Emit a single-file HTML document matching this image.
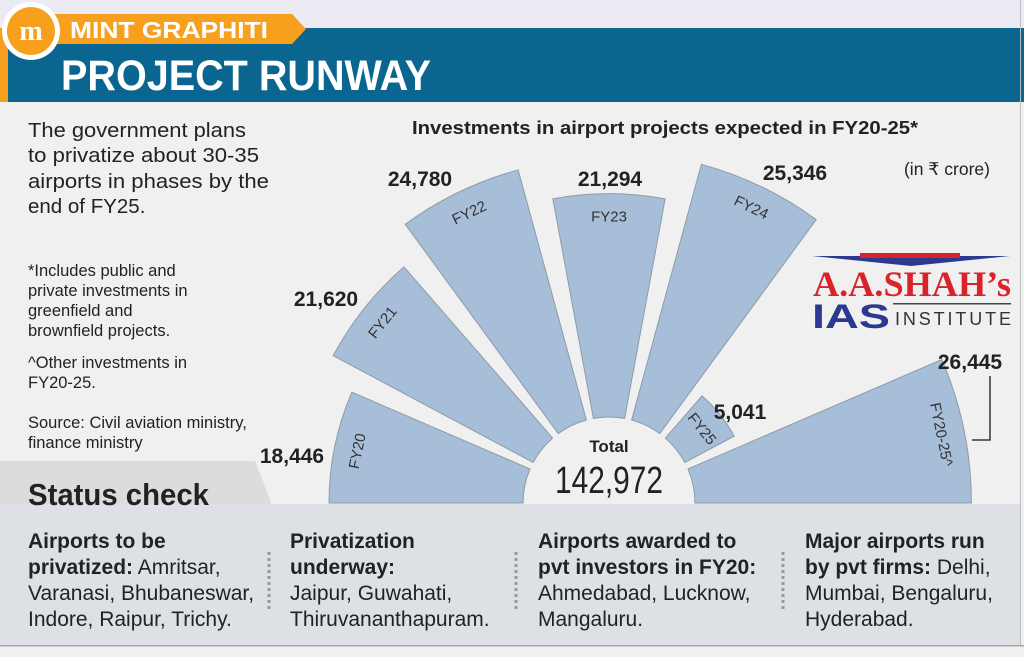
<!DOCTYPE html>
<html><head><meta charset="utf-8">
<style>
html,body{margin:0;padding:0;background:#f0f0f0;}
body{width:1024px;height:652px;overflow:hidden;position:relative;}
</style></head><body>
<svg id="s" width="1024" height="652" viewBox="0 0 1024 652" xmlns="http://www.w3.org/2000/svg" font-family="Liberation Sans, sans-serif">
<rect x="0" y="0" width="1024" height="652" fill="#f0f0f0"/>
<rect x="0" y="0" width="1024" height="28" fill="#eceaf2"/>
<rect x="0" y="28" width="1024" height="74" fill="#0a6590"/>
<rect x="0" y="28" width="8" height="74" fill="#f7a01e"/>
<polygon points="20,14 292,14 306,29 292,44 20,44" fill="#f7a01e"/>
<circle cx="31" cy="31" r="29" fill="#fff"/>
<circle cx="31" cy="31" r="24" fill="#f7a01e"/>
<text x="31" y="40" font-size="28" font-weight="bold" fill="#fff" text-anchor="middle" font-family="Liberation Serif, serif">m</text>
<text x="70" y="38" font-size="23" font-weight="bold" fill="#fff" textLength="198" lengthAdjust="spacingAndGlyphs">MINT GRAPHITI</text>
<text x="61" y="90" font-size="43" font-weight="bold" fill="#fff" textLength="370" lengthAdjust="spacingAndGlyphs">PROJECT RUNWAY</text>
<g font-size="20.5" fill="#222">
<text x="28" y="137" textLength="218" lengthAdjust="spacingAndGlyphs">The government plans</text>
<text x="28" y="162" textLength="231" lengthAdjust="spacingAndGlyphs">to privatize about 30-35</text>
<text x="28" y="188" textLength="241" lengthAdjust="spacingAndGlyphs">airports in phases by the</text>
<text x="28" y="213">end of FY25.</text>
</g>
<g font-size="16.5" fill="#222">
<text x="28" y="276">*Includes public and</text>
<text x="28" y="296">private investments in</text>
<text x="28" y="316">greenfield and</text>
<text x="28" y="336">brownfield projects.</text>
<text x="28" y="368">^Other investments in</text>
<text x="28" y="388">FY20-25.</text>
<text x="28" y="428">Source: Civil aviation ministry,</text>
<text x="28" y="448">finance ministry</text>
</g>
<text x="412" y="134" font-size="18" font-weight="bold" fill="#222" textLength="506" lengthAdjust="spacingAndGlyphs">Investments in airport projects expected in FY20-25*</text>
<text x="990" y="175" font-size="17.5" fill="#222" text-anchor="end">(in ₹ crore)</text>
<polygon points="0,461 255,461 272,505 0,505" fill="#dcdcdc"/>
<rect x="0" y="504" width="1020" height="142" fill="#dde0e4"/>
<rect x="1020" y="0" width="1" height="646" fill="#bbb"/>
<rect x="0" y="645" width="1024" height="1.5" fill="#aaa"/>
<text x="28" y="505" font-size="31" font-weight="bold" fill="#222" textLength="181" lengthAdjust="spacingAndGlyphs">Status check</text>
<g id="chart"></g>
<g>
<polygon points="812,256 1010,256 911,266" fill="#2b3990"/>
<rect x="860" y="253" width="100" height="5" fill="#d8232a"/>
<text x="912" y="296" font-size="36" font-weight="bold" fill="#d8232a" text-anchor="middle" font-family="Liberation Serif, serif" textLength="198" lengthAdjust="spacingAndGlyphs">A.A.SHAH’s</text>
<text x="812" y="328" font-size="34" font-weight="bold" fill="#2b3990" textLength="78" lengthAdjust="spacingAndGlyphs">IAS</text>
<rect x="893" y="303" width="118" height="1.5" fill="#444"/>
<text x="895" y="325" font-size="18" fill="#333" textLength="116" lengthAdjust="spacing">INSTITUTE</text>
</g>
<polyline points="990,376 990,440 972,440" fill="none" stroke="#333" stroke-width="1.5"/>
<g font-size="21" fill="#222">
<text x="28" y="548" font-weight="bold">Airports to be</text>
<text x="28" y="574"><tspan font-weight="bold">privatized:</tspan> Amritsar,</text>
<text x="28" y="600">Varanasi, Bhubaneswar,</text>
<text x="28" y="626">Indore, Raipur, Trichy.</text>
<text x="290" y="548" font-weight="bold">Privatization</text>
<text x="290" y="574" font-weight="bold">underway:</text>
<text x="290" y="600">Jaipur, Guwahati,</text>
<text x="290" y="626">Thiruvananthapuram.</text>
<text x="538" y="548" font-weight="bold">Airports awarded to</text>
<text x="538" y="574" font-weight="bold">pvt investors in FY20:</text>
<text x="538" y="600">Ahmedabad, Lucknow,</text>
<text x="538" y="626">Mangaluru.</text>
<text x="805" y="548" font-weight="bold">Major airports run</text>
<text x="805" y="574"><tspan font-weight="bold">by pvt firms:</tspan> Delhi,</text>
<text x="805" y="600">Mumbai, Bengaluru,</text>
<text x="805" y="626">Hyderabad.</text>
</g>
<g stroke="#999" stroke-width="3" stroke-dasharray="3,3">
<line x1="269" y1="552" x2="269" y2="610"/>
<line x1="516" y1="552" x2="516" y2="610"/>
<line x1="783" y1="552" x2="783" y2="610"/>
</g>
</svg>
<script>
(function(){
var cx=609,cy=503,ri=86,step=180/7,gap=2.4;
var data=[["FY20",18446],["FY21",21620],["FY22",24780],["FY23",21294],["FY24",25346],["FY25",5041],["FY20-25^",26445]];
var vals=[[292,463],[326,306],[420,186],[610,186],[795,180],[740,419],[970,369]];
var g=document.getElementById('chart'),h='';
function P(r,a){a=a*Math.PI/180;return [cx+r*Math.cos(a),cy-r*Math.sin(a)];}
for(var i=0;i<7;i++){
 var a1=180-step*i-(i==0?0:gap), a2=180-step*(i+1)+(i==6?0:gap);
 var r=90+data[i][1]*0.0103;
 var p1=P(ri,a1),p2=P(r,a1),p3=P(r,a2),p4=P(ri,a2);
 var d='M'+p1+' L'+p2+' A'+r+' '+r+' 0 0 1 '+p3+' L'+p4+' A'+ri+' '+ri+' 0 0 0 '+p1+'Z';
 h+='<path d="'+d+'" fill="#a7bed8" stroke="#8e9aa8" stroke-width="1"/>';
 var am=(a1+a2)/2, lp=P(r-24,am), rot=90-am;
 h+='<text x="'+lp[0]+'" y="'+lp[1]+'" font-size="15" fill="#333" text-anchor="middle" dominant-baseline="middle" transform="rotate('+rot+' '+lp[0]+' '+lp[1]+')">'+data[i][0]+'</text>';
 h+='<text x="'+vals[i][0]+'" y="'+vals[i][1]+'" font-size="21" font-weight="bold" fill="#222" text-anchor="middle">'+data[i][1].toLocaleString('en-US')+'</text>';
}
h+='<path d="M'+(cx-80)+' '+cy+' A80 80 0 0 1 '+(cx+80)+' '+cy+'Z" fill="#f0f0f0"/>';
h+='<text x="'+cx+'" y="452" font-size="17" font-weight="bold" fill="#222" text-anchor="middle">Total</text>';
h+='<text x="'+cx+'" y="493" font-size="38" fill="#222" text-anchor="middle" textLength="108" lengthAdjust="spacingAndGlyphs">142,972</text>';
g.innerHTML=h;
})();
</script>
</body></html>
